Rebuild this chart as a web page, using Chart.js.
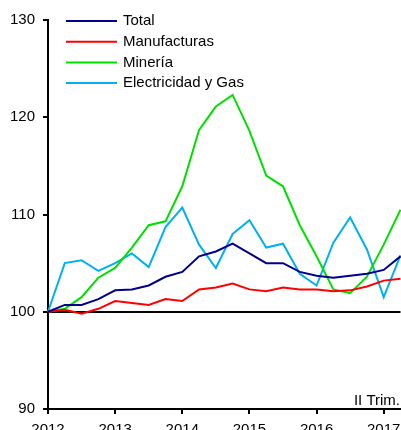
<!DOCTYPE html>
<html>
<head>
<meta charset="utf-8">
<script src="https://cdn.jsdelivr.net/npm/chart.js@4/dist/chart.umd.min.js"></script>
<style>
  html, body { margin: 0; padding: 0; background: #fff; }
  #wrap { width: 401px; height: 430px; overflow: hidden; }
</style>
</head>
<body>
<div id="wrap"><canvas id="chart" width="401" height="430"></canvas></div>
<script>
const quarters = [
  '2012-I', '2012-II', '2012-III', '2012-IV',
  '2013-I', '2013-II', '2013-III', '2013-IV',
  '2014-I', '2014-II', '2014-III', '2014-IV',
  '2015-I', '2015-II', '2015-III', '2015-IV',
  '2016-I', '2016-II', '2016-III', '2016-IV',
  '2017-I', '2017-II'
];
const total = [100, 100.7, 100.7, 101.3, 102.2, 102.3, 102.7, 103.6, 104.1, 105.7, 106.2, 107.0,
  106.0, 105.0, 105.0, 104.1, 103.7, 103.5, 103.7, 103.9, 104.3, 105.7];
const manufacturas = [100, 100.2, 99.8, 100.3, 101.1, 100.9, 100.7, 101.3, 101.1, 102.3, 102.5, 102.9,
  102.3, 102.1, 102.5, 102.3, 102.3, 102.1, 102.2, 102.6, 103.2, 103.4];
const mineria = [100, 100.3, 101.5, 103.5, 104.5, 106.6, 108.9, 109.3, 112.9, 118.7, 121.1, 122.3,
  118.6, 114.0, 112.9, 108.9, 105.7, 102.3, 101.9, 103.6, 106.9, 110.5];
const electricidad = [100, 105.0, 105.3, 104.2, 105.0, 106.0, 104.6, 108.7, 110.7, 106.9, 104.5, 108.0,
  109.4, 106.6, 107.0, 103.9, 102.7, 107.1, 109.7, 106.4, 101.5, 105.8];
const yTicks = [90, 100, 110, 120, 130];
const periodNote = 'II Trim.';

const FONT = '"Liberation Sans", Arial, sans-serif';

function line(label, data, color) {
  return { label, data, borderColor: color, backgroundColor: color, borderWidth: 2,
    pointRadius: 0, tension: 0, fill: false };
}

// legend lives inside the plot, top-left, plus the "II Trim." note
const insideLegend = {
  id: 'insideLegend',
  afterDraw(chart) {
    const ctx = chart.ctx;
    ctx.save();
    ctx.font = '15px ' + FONT;
    ctx.textBaseline = 'middle';
    chart.data.datasets.forEach((ds, i) => {
      const y = 21 + i * 20.7;
      ctx.strokeStyle = ds.borderColor;
      ctx.lineWidth = 2;
      ctx.beginPath();
      ctx.moveTo(66, y);
      ctx.lineTo(117, y);
      ctx.stroke();
      ctx.fillStyle = '#000';
      ctx.fillText(ds.label, 123, y);
    });
    ctx.textAlign = 'right';
    ctx.textBaseline = 'alphabetic';
    ctx.fillText(periodNote, 400, 405);
    ctx.restore();
  }
};

new Chart(document.getElementById('chart'), {
  type: 'line',
  data: {
    labels: quarters,
    datasets: [
      line('Total', total, '#00008b'),
      line('Manufacturas', manufacturas, '#ff0000'),
      line('Minería', mineria, '#00e000'),
      line('Electricidad y Gas', electricidad, '#00b0f0')
    ]
  },
  options: {
    responsive: false,
    animation: false,
    devicePixelRatio: 1,
    layout: { padding: { top: 20, right: 0.5, left: 0, bottom: 0 } },
    plugins: { legend: { display: false }, tooltip: { enabled: false } },
    scales: {
      x: {
        offset: false,
        border: { color: '#000', width: 2 },
        grid: { color: 'transparent', tickColor: '#000', tickLength: 5, lineWidth: 2 },
        afterBuildTicks(scale) {
          scale.ticks = scale.ticks.filter(t => t.value % 4 === 0);
        },
        afterFit(scale) {
          scale.height = 21;
          scale.paddingRight = 0;
          scale.paddingLeft = 0;
        },
        ticks: {
          autoSkip: false, maxRotation: 0, padding: 7, color: '#000',
          font: { family: FONT, size: 15 },
          callback: (v) => quarters[v].slice(0, 4)
        }
      },
      y: {
        min: 90, max: 130,
        border: { color: '#000', width: 2 },
        afterBuildTicks(scale) {
          scale.ticks = yTicks.map(v => ({ value: v }));
        },
        afterFit(scale) { scale.width = 48; },
        grid: {
          color: (c) => (c.tick && c.tick.value === 100 ? '#000' : 'transparent'),
          tickColor: '#000', tickLength: 5, lineWidth: 2
        },
        ticks: { padding: 8, color: '#000', font: { family: FONT, size: 15 } }
      }
    }
  },
  plugins: [insideLegend]
});
</script>
</body>
</html>
